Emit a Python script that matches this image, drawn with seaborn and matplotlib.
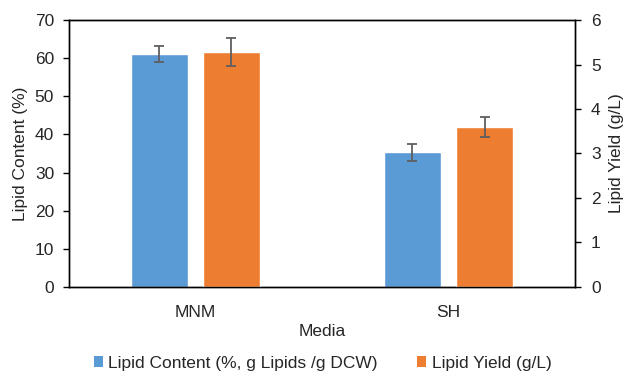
import matplotlib
matplotlib.use("Agg")
import matplotlib.pyplot as plt
import seaborn as sns
import pandas as pd
import numpy as np
from matplotlib.patches import Patch

media = ["MNM", "SH"]
lipid_content = [61.1, 35.3]
lipid_content_err = [2.1, 2.3]
lipid_yield = [5.28, 3.60]
lipid_yield_err = [0.32, 0.22]
series = ["Lipid Content (%, g Lipids /g DCW)", "Lipid Yield (g/L)"]
colors = ["#5B9BD5", "#ED7D31"]

sns.set_theme(style="white")
plt.rcParams['font.family'] = ['Liberation Sans', 'DejaVu Sans']
FS = 12.5
plt.rcParams['font.size'] = FS

df1 = pd.DataFrame({"Media": media, "value": lipid_content, "series": series[0]})
df2 = pd.DataFrame({"Media": media, "value": lipid_yield, "series": series[1]})

fig = plt.figure(figsize=(6.25, 3.79), dpi=100)
ax = fig.add_axes([0.11, 0.243, 0.81, 0.704])
ax2 = ax.twinx()

W = 0.57
sns.barplot(data=df1, x="Media", y="value", hue="series", hue_order=series,
            order=media, palette=colors, width=W, gap=0.21, dodge=True,
            saturation=1, ax=ax, legend=False, errorbar=None)
sns.barplot(data=df2, x="Media", y="value", hue="series", hue_order=series,
            order=media, palette=colors, width=W, gap=0.21, dodge=True,
            saturation=1, ax=ax2, legend=False, errorbar=None)

xs = np.arange(len(media))
ax.errorbar(xs - W / 4, lipid_content, yerr=lipid_content_err, fmt="none",
            ecolor="#5f5f5f", elinewidth=1.3, capsize=3.5, capthick=1.3, zorder=5)
ax2.errorbar(xs + W / 4, lipid_yield, yerr=lipid_yield_err, fmt="none",
             ecolor="#5f5f5f", elinewidth=1.3, capsize=3.5, capthick=1.3, zorder=5)

ax.set_ylim(0, 70)
ax.set_yticks(range(0, 71, 10))
ax2.set_ylim(0, 6)
ax2.set_yticks(range(0, 7))
ax.set_xlim(-0.5, 1.5)

ax.set_xlabel("Media", fontsize=FS, color="#262626", labelpad=3)
ax.set_ylabel("Lipid Content (%)", fontsize=FS, color="#262626", labelpad=5)
ax2.set_ylabel("Lipid Yield (g/L)", fontsize=FS, color="#262626", labelpad=6)
ax2.set_xlabel("")

for a in (ax, ax2):
    for s in a.spines.values():
        s.set_color("#000000")
        s.set_linewidth(1.0)
        s.set_visible(True)
    a.tick_params(axis="y", which="both", direction="out", length=4.5, width=1,
                  color="#000000", labelsize=FS, labelcolor="#262626")
ax.tick_params(axis="x", length=0, labelsize=FS, labelcolor="#262626", pad=13)
ax.tick_params(axis="y", left=True, right=False, pad=6)
ax2.tick_params(axis="y", left=False, right=True, pad=7)

handles = [Patch(facecolor=c, edgecolor="none") for c in colors]
fig.legend(handles, series, loc="center", bbox_to_anchor=(0.516, 0.042),
           ncol=2, frameon=False, fontsize=FS, handlelength=0.55, handleheight=0.55,
           handletextpad=0.3, columnspacing=2.25)

fig.savefig("out.png", dpi=100)
